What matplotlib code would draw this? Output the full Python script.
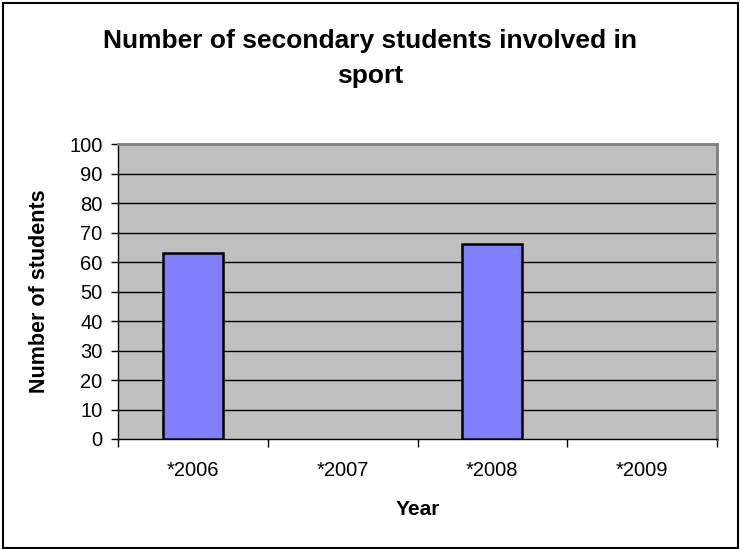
import matplotlib
matplotlib.use("Agg")
import matplotlib.pyplot as plt
from matplotlib.patches import Rectangle
import numpy as np

categories = ["*2006", "*2007", "*2008", "*2009"]
values = [63, np.nan, 66, np.nan]
yticks = list(range(0, 101, 10))

plt.rcParams['font.family'] = ['Liberation Sans', 'DejaVu Sans']

W, H = 740, 549
fig = plt.figure(figsize=(W / 100, H / 100), dpi=100)
fig.patch.set_facecolor('white')

# outer border
fig.add_artist(Rectangle((2.5 / W, 1.5 / H), (W - 5) / W, (H - 4.5) / H,
                         transform=fig.transFigure, fill=False,
                         edgecolor='black', linewidth=1.5))

left, right, top, bottom = 118, 717, 144, 439
ax = fig.add_axes([left / W, 1 - bottom / H, (right - left) / W, (bottom - top) / H])
ax.set_facecolor('#C0C0C0')

x = np.arange(len(categories))
ax.bar(x, values, width=0.4, color='#8080FF', edgecolor='black', linewidth=1.8, zorder=3)

ax.set_xlim(-0.5, len(categories) - 0.5)
ax.set_ylim(0, 100)
ax.set_yticks(yticks)
ax.set_yticklabels([str(t) for t in yticks], fontsize=14.5)
for t in yticks[1:-1]:
    ax.axhline(t, color='black', linewidth=1.0, zorder=1)

ax.set_xticks(x)
ax.set_xticklabels(categories, fontsize=14.5)
ax.set_xticks(np.arange(len(categories) + 1) - 0.5, minor=True)
ax.tick_params(axis='x', which='major', length=0, pad=16)
ax.tick_params(axis='x', which='minor', length=6, width=1, color='black', direction='out')
ax.tick_params(axis='y', length=5, width=1, color='black', direction='out', pad=6)

for s in ['top', 'right']:
    ax.spines[s].set_color('#808080')
    ax.spines[s].set_linewidth(2)
for s in ['left', 'bottom']:
    ax.spines[s].set_color('black')
    ax.spines[s].set_linewidth(1)

ax.set_xlabel('Year', fontsize=15, fontweight='bold', labelpad=14)
ax.set_ylabel('Number of students', fontsize=15.5, fontweight='bold', labelpad=14)

fig.text(0.5, 1 - 58.5 / H, 'Number of secondary students involved in\nsport',
         ha='center', va='center', fontsize=19, fontweight='bold', linespacing=1.55)

fig.savefig('out.png', dpi=100)
